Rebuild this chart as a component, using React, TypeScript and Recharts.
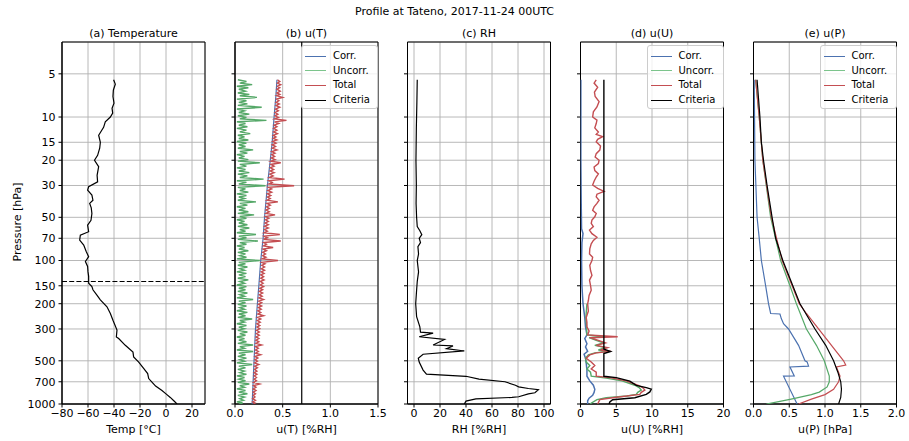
import React from 'react';
import {
  ScatterChart,
  Scatter,
  XAxis,
  YAxis,
  CartesianGrid,
  ReferenceLine,
  ReferenceArea,
} from 'recharts';

// ---- data (pressure in hPa) ----
const PRESSURE_TICKS = [5, 10, 15, 20, 30, 50, 70, 100, 150, 200, 300, 500, 700, 1000];
const TROPOPAUSE_P = 140;

// (a) temperature
const tempP = [
  5.5, 5.9, 6.5, 7.2, 8, 8.7, 9.4, 10, 10.8, 11.8, 13.4, 15, 16.5, 18.5, 20, 22.2, 25.5, 28.3, 30.6, 32.3,
  35, 38, 40, 43, 47, 52.4, 56.7, 63, 66.5, 72, 78, 87, 94, 101.5, 110, 120, 129, 144, 152, 160,
  175, 188, 210, 234, 261, 305, 341, 350, 390, 435, 470, 510, 565, 614, 665, 703, 750, 805, 850, 900,
  950, 1000,
];
const tempC = [
  -40.3, -39, -40.5, -40.8, -40, -41.5, -41, -42.8, -46.7, -48, -51.8, -50.5, -51, -52.6, -55, -51.8, -53, -52.6, -59.5, -60.3,
  -57, -56.2, -58.7, -57.5, -57, -57.7, -60.3, -59.5, -65.9, -66.4, -63.3, -61.3, -59.5, -62, -60.3, -60, -59.5, -59.5, -57, -56.2,
  -53, -50.5, -45.4, -42.8, -40.8, -37.7, -38.2, -36.4, -31.3, -25.4, -24.9, -21, -17.2, -14.1, -13.3, -10.8, -8, -3.1, 0, 3.3,
  6, 8.5,
];

// (b) u(T)
const uTP = [
  5.5, 5.65, 5.8, 5.95, 6.1, 6.25, 6.4, 6.6, 6.8, 6.95,
  7.1, 7.3, 7.5, 7.7, 7.9, 8.1, 8.3, 8.55, 8.8, 9.05,
  9.3, 9.55, 9.8, 10.05, 10.3, 10.55, 10.8, 11.1, 11.4, 11.7,
  12, 12.35, 12.7, 13.05, 13.4, 13.75, 14.1, 14.45, 14.8, 15.2,
  15.6, 16.05, 16.5, 16.95, 17.4, 17.85, 18.3, 18.8, 19.3, 19.8,
  20.3, 20.85, 21.4, 22, 22.6, 23.2, 23.8, 24.4, 25, 25.7,
  26.4, 27.1, 27.8, 28.55, 29.3, 30.1, 30.9, 31.7, 32.5, 33.4,
  34.3, 35.2, 36.1, 37, 38, 39, 40, 41.1, 42.2, 43.3,
  44.5, 45.7, 46.9, 48.1, 49.4, 50.7, 52, 53.4, 54.8, 56.3,
  57.8, 59.3, 60.9, 62.5, 64.1, 65.8, 67.6, 69.4, 71.2, 73.1,
  75, 77, 79, 81.1, 83.3, 85.5, 87.7, 90, 92.4, 94.9,
  97.4, 100, 103, 105.5, 108, 111, 114, 117, 120, 123,
  126, 129.5, 133, 136.5, 140, 144, 148, 152, 156, 160,
  164, 168.5, 173, 177.5, 182, 187, 192, 197, 202, 207.5,
  213, 218.5, 224, 230, 236, 242.5, 249, 255.5, 262, 269,
  276, 283.5, 291, 299, 307, 315, 323, 332, 341, 350,
  359, 368.5, 378, 388, 398, 409, 420, 431, 442, 454,
  466, 478.5, 491, 504, 517, 531, 545, 559.5, 574, 589.5,
  605, 621, 637, 654, 671, 689, 707, 726, 745, 765,
  785, 806, 827, 849, 871, 894.5, 918, 942.5, 967, 983.5,
  1000,
];
const uTUncorr = [
  0.03, 0.12, 0.05, 0.18, 0.02, 0.14, 0.04, 0.11, 0.03, 0.15,
  0.05, 0.23, 0.02, 0.12, 0.04, 0.13, 0.03, 0.28, 0.02, 0.1,
  0.04, 0.15, 0.03, 0.12, 0.05, 0.33, 0.02, 0.11, 0.04, 0.13,
  0.02, 0.12, 0.05, 0.16, 0.03, 0.1, 0.04, 0.14, 0.02, 0.12,
  0.04, 0.11, 0.03, 0.19, 0.05, 0.13, 0.02, 0.1, 0.04, 0.14,
  0.03, 0.26, 0.05, 0.12, 0.02, 0.11, 0.04, 0.15, 0.03, 0.13,
  0.05, 0.3, 0.02, 0.12, 0.04, 0.32, 0.03, 0.11, 0.05, 0.14,
  0.02, 0.12, 0.04, 0.1, 0.03, 0.22, 0.05, 0.13, 0.02, 0.11,
  0.04, 0.14, 0.03, 0.2, 0.05, 0.12, 0.02, 0.1, 0.04, 0.13,
  0.03, 0.15, 0.05, 0.11, 0.02, 0.22, 0.04, 0.12, 0.03, 0.24,
  0.05, 0.12, 0.02, 0.1, 0.04, 0.14, 0.03, 0.11, 0.05, 0.12,
  0.02, 0.26, 0.04, 0.11, 0.03, 0.13, 0.05, 0.1, 0.02, 0.12,
  0.04, 0.11, 0.03, 0.14, 0.05, 0.1, 0.02, 0.12, 0.04, 0.11,
  0.03, 0.13, 0.05, 0.1, 0.02, 0.19, 0.04, 0.11, 0.03, 0.12,
  0.05, 0.1, 0.02, 0.13, 0.04, 0.11, 0.03, 0.18, 0.05, 0.1,
  0.02, 0.12, 0.04, 0.1, 0.03, 0.13, 0.05, 0.11, 0.02, 0.1,
  0.04, 0.12, 0.03, 0.19, 0.05, 0.1, 0.02, 0.19, 0.04, 0.11,
  0.03, 0.12, 0.05, 0.1, 0.02, 0.18, 0.04, 0.11, 0.03, 0.1,
  0.05, 0.12, 0.02, 0.1, 0.04, 0.11, 0.03, 0.15, 0.05, 0.1,
  0.02, 0.11, 0.04, 0.13, 0.03, 0.1, 0.05, 0.09, 0.02, 0.08,
  0.04,
];
const uTTotal = [
  0.445, 0.47, 0.445, 0.48, 0.445, 0.47, 0.44, 0.475, 0.44, 0.47,
  0.435, 0.5, 0.435, 0.46, 0.43, 0.465, 0.43, 0.47, 0.425, 0.455,
  0.42, 0.45, 0.42, 0.455, 0.415, 0.54, 0.415, 0.46, 0.41, 0.44,
  0.405, 0.44, 0.405, 0.445, 0.4, 0.43, 0.4, 0.44, 0.395, 0.43,
  0.39, 0.425, 0.39, 0.44, 0.385, 0.42, 0.385, 0.415, 0.38, 0.42,
  0.375, 0.48, 0.375, 0.41, 0.37, 0.405, 0.37, 0.41, 0.365, 0.4,
  0.36, 0.52, 0.355, 0.39, 0.355, 0.62, 0.35, 0.385, 0.345, 0.385,
  0.34, 0.375, 0.34, 0.37, 0.335, 0.45, 0.335, 0.37, 0.33, 0.36,
  0.325, 0.36, 0.325, 0.42, 0.32, 0.355, 0.32, 0.35, 0.315, 0.35,
  0.31, 0.35, 0.31, 0.34, 0.305, 0.47, 0.305, 0.34, 0.3, 0.48,
  0.3, 0.33, 0.3, 0.4, 0.295, 0.33, 0.29, 0.32, 0.29, 0.325,
  0.285, 0.45, 0.28, 0.315, 0.28, 0.31, 0.275, 0.31, 0.275, 0.305,
  0.27, 0.3, 0.27, 0.305, 0.265, 0.295, 0.265, 0.3, 0.26, 0.29,
  0.255, 0.29, 0.255, 0.285, 0.25, 0.3, 0.25, 0.28, 0.245, 0.28,
  0.245, 0.275, 0.24, 0.27, 0.24, 0.3, 0.235, 0.27, 0.235, 0.265,
  0.23, 0.26, 0.23, 0.26, 0.225, 0.255, 0.225, 0.255, 0.22, 0.25,
  0.22, 0.25, 0.22, 0.28, 0.215, 0.245, 0.215, 0.245, 0.215, 0.27,
  0.21, 0.24, 0.21, 0.235, 0.205, 0.25, 0.205, 0.235, 0.205, 0.23,
  0.2, 0.23, 0.2, 0.225, 0.2, 0.225, 0.195, 0.26, 0.195, 0.22,
  0.19, 0.22, 0.19, 0.215, 0.19, 0.21, 0.185, 0.215, 0.185, 0.21,
  0.19,
];
const uTCorrP = [5.5, 7, 10, 15, 20, 30, 50, 70, 100, 150, 200, 300, 500, 700, 1000];
const uTCorr = [0.44, 0.43, 0.41, 0.39, 0.37, 0.34, 0.31, 0.295, 0.27, 0.25, 0.235, 0.215, 0.2, 0.19, 0.18];
const uTCritP = [3, 1000];
const uTCrit = [0.7, 0.7];

// (c) RH
const rhP = [
  5.5, 8, 12, 20, 30, 40, 50, 58, 62, 66, 70, 75, 80, 90, 100, 120, 140, 161, 200, 246,
  290, 316, 321, 340, 355, 388, 394, 411, 427, 450, 480, 510, 580, 620, 641, 670, 700, 740, 760, 780,
  795, 835, 850, 890, 900, 920, 955, 1000,
];
const rh = [
  2.5, 2.2, 1.8, 1.5, 1.8, 1.6, 2, 2.5, 4.5, 6, 4, 5, 3, 3.5, 2.5, 3.5, 2.5, 2, 1.3, 2,
  4.5, 5, 14.7, 4, 23.5, 14.7, 30, 25, 38.7, 7, 3.3, 4, 7, 9.6, 40, 50, 70, 78, 80.5, 88,
  95.7, 93, 88, 80.5, 75.4, 47.6, 40, 38.7,
];

// (d) u(U)
const uUCorrP = [5.5, 20, 40, 60, 65, 75, 100, 150, 200, 250, 290, 330, 350, 380, 400, 430, 450, 480, 520, 580, 640, 690, 740, 790, 830, 870, 910, 950, 1000];
const uUCorr = [0.05, 0.05, 0.1, 0.15, 0.35, 0.2, 0.15, 0.2, 0.35, 0.6, 0.7, 0.9, 0.6, 0.9, 0.7, 1.0, 0.5, 0.7, 0.8, 0.9, 0.9, 1.3, 1.8, 2.0, 1.9, 1.7, 1.2, 1.0, 1.0];
const uUUncorrP = [200, 250, 290, 330, 340, 345, 360, 375, 390, 405, 420, 430, 440, 455, 480, 510, 540, 570, 600, 640, 660, 690, 740, 769, 800, 830, 857, 880, 904, 933, 1000];
const uUUncorr = [0.9, 0.75, 0.85, 0.9, 3.5, 1.2, 2.2, 3.2, 2.0, 3.5, 2.5, 3.8, 2.0, 1.1, 0.7, 0.8, 1.3, 0.9, 1.4, 1.5, 3.6, 5.8, 7.6, 8.2, 8.5, 8.0, 7.8, 6.5, 3.6, 2.3, 1.3];
const uUTotalP = [
  5.5, 5.8, 6.2, 6.7, 7.2, 7.8, 8.5, 9.2, 10, 10.5,
  11.1, 11.9, 12.7, 13.2, 13.7, 14.3, 14.9, 15.9, 17, 18,
  19, 20, 21.1, 22.3, 23.6, 24.9, 26.2, 28, 29.8, 31.4,
  33, 34.5, 36, 38, 40, 42.3, 44.6, 47, 49.6, 52.2,
  55, 58, 61.3, 65, 68.8, 72.5, 76.5, 83, 90, 95,
  100, 108, 117, 127, 137, 149, 161, 175, 190,
  200, 225, 250, 270, 290, 310, 330, 340, 345, 360,
  375, 390, 405, 420, 430, 440, 455, 480, 510, 540,
  570, 600, 640, 655, 690, 740, 769, 800, 830, 857,
  904, 933, 1000,
];
const uUTotal = [
  2.2, 1.9, 2.4, 1.95, 2.05, 2.6, 2.3, 1.8, 1.7, 2.3,
  2.2, 2.0, 2.5, 2.2, 3.1, 2.4, 2.2, 2.8, 2.7, 2.2,
  2.05, 2.6, 2.5, 1.9, 2.0, 2.5, 2.2, 1.9, 1.7, 2.4,
  3.3, 2.3, 2.2, 2.6, 2.3, 1.9, 1.7, 2.2, 2.0, 1.6,
  1.5, 1.8, 1.26, 1.6, 2.3, 1.8, 1.5, 1.3, 1.26, 1.7,
  1.6, 1.3, 1.4, 1.6, 1.26, 1.4, 1.5, 1.2, 1.1,
  1.0, 1.1, 0.8, 0.9, 0.9, 1.2, 1.0, 5.2, 1.3, 2.5,
  3.5, 2.2, 3.8, 2.8, 4.3, 2.2, 1.3, 0.8, 1.5, 2.0,
  1.5, 2.2, 2.2, 4.1, 6.4, 8.0, 8.7, 9.0, 8.5, 8.3,
  4.5, 2.7, 2.4,
];
const uUCritP = [5.5, 415, 430, 445, 641, 655, 692, 741, 769, 787, 824, 857, 904, 933, 969, 1000];
const uUCrit = [3.27, 3.27, 4.2, 3.27, 3.27, 5.0, 6.9, 7.8, 9.2, 9.9, 9.7, 9.2, 7.6, 4.5, 4.1, 4.0];

// (e) u(P)
const uPCorrP = [5.5, 20, 50, 70, 100, 150, 200, 234, 236, 255, 276, 300, 390, 500, 509, 545, 552, 638, 640, 1000];
const uPCorr = [0.01, 0.02, 0.05, 0.08, 0.11, 0.17, 0.21, 0.24, 0.37, 0.39, 0.42, 0.49, 0.63, 0.72, 0.75, 0.77, 0.51, 0.57, 0.42, 0.61];
const uPUncorrP = [5.5, 10, 20, 50, 100, 150, 200, 300, 390, 500, 640, 700, 760, 826, 860, 918, 960, 1000];
const uPUncorr = [0.03, 0.08, 0.13, 0.24, 0.38, 0.51, 0.6, 0.74, 0.88, 0.99, 1.06, 1.06, 1.03, 0.92, 0.81, 0.56, 0.37, 0.18];
const uPTotalP = [5.5, 10, 20, 50, 100, 150, 200, 234, 500, 535, 552, 638, 700, 790, 860, 925, 1000];
const uPTotal = [0.03, 0.08, 0.13, 0.25, 0.4, 0.54, 0.64, 0.74, 1.26, 1.29, 1.16, 1.21, 1.19, 1.12, 1.0, 0.81, 0.63];
const uPCritP = [5.5, 10, 15, 20, 30, 50, 70, 100, 150, 200, 300, 390, 500, 600, 700, 790, 900, 1000];
const uPCrit = [0.05, 0.09, 0.11, 0.14, 0.19, 0.26, 0.31, 0.41, 0.55, 0.65, 0.86, 1.01, 1.12, 1.18, 1.22, 1.23, 1.22, 1.19];

// ---- layout ----
const W = 909;
const H = 441;
const PLOT_TOP = 42;
const PLOT_BOTTOM = 404;
const PLOT_W = 143;
const Y_AXIS_W = 30;
const X_AXIS_H = 30;
const FONT = '"DejaVu Sans", sans-serif';

const BLUE = '#4c72b0';
const GREEN = '#55a868';
const RED = '#c44e52';
const BLACK = '#000000';

type Pt = { x: number; p: number };
const zip = (p: number[], x: number[]): Pt[] => p.map((pp, i) => ({ p: pp, x: x[i] }));

interface Series {
  name: string;
  color: string;
  data: Pt[];
  width?: number;
}

interface PanelProps {
  left: number;
  title: string;
  xLabel: string;
  domain: [number, number];
  ticks: number[];
  fmt: (v: number) => string;
  series: Series[];
  showYLabels?: boolean;
  tropopause?: number;
  legend?: boolean;
}

const minus = (v: number) => (v < 0 ? `\u2212${Math.abs(v)}` : `${v}`);
const oneDec = (v: number) => v.toFixed(1);

const LEGEND_ITEMS = [
  { name: 'Corr.', color: BLUE },
  { name: 'Uncorr.', color: '#7cc48c' },
  { name: 'Total', color: RED },
  { name: 'Criteria', color: BLACK },
];

function Legend({ right }: { right: number }) {
  return (
    <div
      style={{
        position: 'absolute',
        left: right - 77,
        top: 45,
        width: 75,
        height: 62,
        border: '1px solid #cccccc',
        borderRadius: 3,
        background: 'rgba(255,255,255,0.8)',
        fontSize: 10,
      }}
    >
      {LEGEND_ITEMS.map((it, i) => (
        <div key={it.name} style={{ position: 'absolute', left: 0, top: 3 + i * 14.7, height: 14, width: '100%' }}>
          <span
            style={{
              position: 'absolute',
              left: 3,
              top: 6.5,
              width: 21,
              height: 0,
              borderTop: `1.2px solid ${it.color}`,
            }}
          />
          <span style={{ position: 'absolute', left: 31, top: 0, lineHeight: '14px', whiteSpace: 'nowrap' }}>{it.name}</span>
        </div>
      ))}
    </div>
  );
}

function Panel({ left, title, xLabel, domain, ticks, fmt, series, showYLabels, tropopause, legend }: PanelProps) {
  return (
    <>
      <div style={{ position: 'absolute', left: 0, top: 0 }}>
        <ScatterChart
          width={W}
          height={H}
          margin={{
            top: PLOT_TOP,
            bottom: H - PLOT_BOTTOM - X_AXIS_H,
            left: left - Y_AXIS_W,
            right: W - left - PLOT_W,
          }}
        >
          <CartesianGrid stroke="#b0b0b0" strokeWidth={0.9} />
          <XAxis
            type="number"
            dataKey="x"
            domain={domain}
            ticks={ticks}
            interval={0}
            allowDataOverflow
            tickFormatter={fmt}
            height={X_AXIS_H}
            tickSize={3.5}
            tickMargin={2}
            tick={{ fill: '#000', fontSize: 11 }}
            tickLine={{ stroke: '#000' }}
            axisLine={{ stroke: '#000' }}
          />
          <YAxis
            type="number"
            dataKey="p"
            scale="log"
            domain={[3, 1000]}
            reversed
            ticks={PRESSURE_TICKS}
            interval={0}
            allowDataOverflow
            width={Y_AXIS_W}
            tickSize={3.5}
            tickMargin={3}
            tickFormatter={(v: number) => (showYLabels ? `${v}` : '')}
            tick={{ fill: '#000', fontSize: 11 }}
            tickLine={{ stroke: '#000' }}
            axisLine={{ stroke: '#000' }}
          />
          {series.map((s) => (
            <Scatter
              key={s.name}
              name={s.name}
              data={s.data}
              fill={s.color}
              line={{ stroke: s.color, strokeWidth: s.width ?? 1.2 }}
              lineType="joint"
              shape={() => <g />}
              isAnimationActive={false}
            />
          ))}
          {tropopause !== undefined && (
            <ReferenceLine y={tropopause} stroke="#000" strokeWidth={1.2} strokeDasharray="5 2.2" />
          )}
          <ReferenceArea
            x1={domain[0]}
            x2={domain[1]}
            y1={3}
            y2={1000}
            fill="none"
            fillOpacity={0}
            stroke="#000"
            strokeWidth={1}
            ifOverflow="visible"
          />
        </ScatterChart>
      </div>
      <div
        style={{
          position: 'absolute',
          left,
          width: PLOT_W,
          top: 27,
          lineHeight: '13px',
          textAlign: 'center',
          fontSize: 11,
          whiteSpace: 'nowrap',
        }}
      >
        {title}
      </div>
      <div
        style={{
          position: 'absolute',
          left,
          width: PLOT_W,
          top: 423,
          lineHeight: '13px',
          textAlign: 'center',
          fontSize: 11,
          whiteSpace: 'nowrap',
        }}
      >
        {xLabel}
      </div>
      {legend && <Legend right={left + PLOT_W} />}
    </>
  );
}

export default function App() {
  const panels: PanelProps[] = [
    {
      left: 62,
      title: '(a) Temperature',
      xLabel: 'Temp [°C]',
      domain: [-80, 30],
      ticks: [-80, -60, -40, -20, 0, 20],
      fmt: minus,
      series: [{ name: 'Temp', color: BLACK, data: zip(tempP, tempC) }],
      showYLabels: true,
      tropopause: TROPOPAUSE_P,
    },
    {
      left: 235,
      title: '(b) u(T)',
      xLabel: 'u(T) [%RH]',
      domain: [0, 1.5],
      ticks: [0, 0.5, 1, 1.5],
      fmt: oneDec,
      series: [
        { name: 'Corr.', color: BLUE, data: zip(uTCorrP, uTCorr) },
        { name: 'Uncorr.', color: GREEN, data: zip(uTP, uTUncorr), width: 1.4 },
        { name: 'Total', color: RED, data: zip(uTP, uTTotal), width: 1.4 },
        { name: 'Criteria', color: BLACK, data: zip(uTCritP, uTCrit) },
      ],
      legend: true,
    },
    {
      left: 407.5,
      title: '(c) RH',
      xLabel: 'RH [%RH]',
      domain: [-5, 105],
      ticks: [0, 20, 40, 60, 80, 100],
      fmt: minus,
      series: [{ name: 'RH', color: BLACK, data: zip(rhP, rh) }],
    },
    {
      left: 580.5,
      title: '(d) u(U)',
      xLabel: 'u(U) [%RH]',
      domain: [0, 20],
      ticks: [0, 5, 10, 15, 20],
      fmt: minus,
      series: [
        { name: 'Corr.', color: BLUE, data: zip(uUCorrP, uUCorr), width: 1.5 },
        { name: 'Uncorr.', color: GREEN, data: zip(uUUncorrP, uUUncorr), width: 1.4 },
        { name: 'Total', color: RED, data: zip(uUTotalP, uUTotal), width: 1.4 },
        { name: 'Criteria', color: BLACK, data: zip(uUCritP, uUCrit), width: 1.4 },
      ],
      legend: true,
    },
    {
      left: 753.5,
      title: '(e) u(P)',
      xLabel: 'u(P) [hPa]',
      domain: [0, 2],
      ticks: [0, 0.5, 1, 1.5, 2],
      fmt: oneDec,
      series: [
        { name: 'Corr.', color: BLUE, data: zip(uPCorrP, uPCorr) },
        { name: 'Uncorr.', color: GREEN, data: zip(uPUncorrP, uPUncorr) },
        { name: 'Total', color: RED, data: zip(uPTotalP, uPTotal) },
        { name: 'Criteria', color: BLACK, data: zip(uPCritP, uPCrit) },
      ],
      legend: true,
    },
  ];

  return (
    <div
      style={{
        position: 'absolute',
        left: 0,
        top: 0,
        width: W,
        height: H,
        background: '#fff',
        fontFamily: FONT,
        color: '#000',
        overflow: 'hidden',
      }}
    >
      <div
        style={{
          position: 'absolute',
          left: 0,
          width: W,
          top: 5,
          lineHeight: '14px',
          textAlign: 'center',
          fontSize: 11,
        }}
      >
        Profile at Tateno, 2017-11-24 00UTC
      </div>
      {panels.map((p) => (
        <Panel key={p.title} {...p} />
      ))}
      <div
        style={{
          position: 'absolute',
          left: 17,
          top: 222,
          transform: 'translate(-50%, -50%) rotate(-90deg)',
          fontSize: 11,
          whiteSpace: 'nowrap',
        }}
      >
        Pressure [hPa]
      </div>
    </div>
  );
}
